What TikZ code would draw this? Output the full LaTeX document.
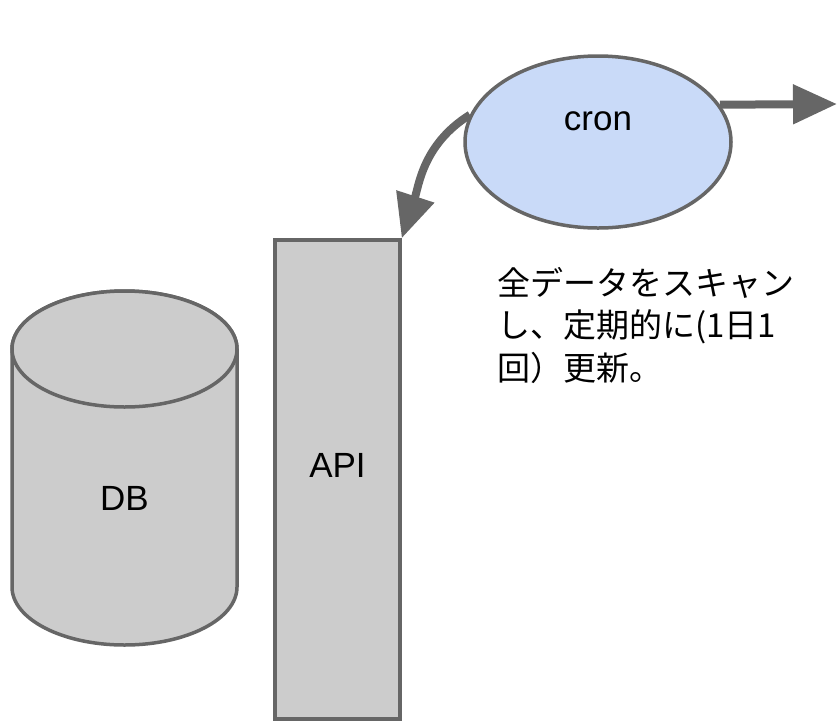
\documentclass[tikz,border=0pt]{standalone}
\usepackage{fontspec}
\setmainfont{Liberation Sans}
\newfontfamily\jpfont{Noto Sans CJK JP}
\usetikzlibrary{arrows.meta,shapes.geometric}
\definecolor{edgegray}{HTML}{666666}
\definecolor{boxgray}{HTML}{CCCCCC}
\definecolor{cronblue}{HTML}{C9DAF8}

\begin{document}
\begin{tikzpicture}[x=1pt,y=-1pt,every node/.style={font=\fontsize{35}{40}\selectfont},box/.style={draw=edgegray,fill=boxgray,line width=3.5pt},job/.style={ellipse,draw=edgegray,fill=cronblue,line width=3.5pt,minimum width=266pt,minimum height=172pt},arr/.style={-{Triangle[length=44pt,width=38pt]},line width=8pt,draw=edgegray}]
\useasboundingbox (0,0) rectangle (838,721);
% database drum
\filldraw[box] (12,349) -- (12,587) arc[start angle=180,end angle=360,x radius=112.5pt,y radius=58pt] -- (237,349) arc[start angle=0,end angle=180,x radius=112.5pt,y radius=58pt] -- cycle;
\draw[box] (124.5,349) ellipse[x radius=112.5pt,y radius=58pt];
\node (db) at (124.5,498) {DB};
% api column and the cron job
\node[box,minimum width=125pt,minimum height=479pt,label={[yshift=14pt]center:API}] (api) at (337.5,479.5) {};
\node[job,label={[yshift=21pt]center:cron}] (cron) at (598,142) {};
\coordinate (away) at (837,104);
\draw[arr] (cron.168) to[out=212,in=72] (api.north east);
\draw[arr] (cron.17) -- (away);
\node[anchor=north west,align=left,inner sep=0pt,font=\jpfont\fontsize{33}{42.5}\selectfont] (note) at (497,267) {全データをスキャン\\し、定期的に(1日1\\回）更新。};
\end{tikzpicture}
\end{document}
